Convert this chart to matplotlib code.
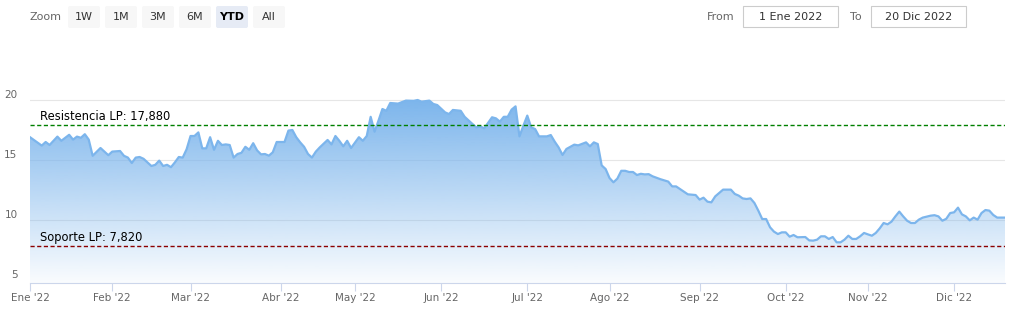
import numpy as np
import pandas as pd
import matplotlib
matplotlib.use("Agg")
import matplotlib.pyplot as plt
from matplotlib.colors import to_rgb
from matplotlib.patches import PathPatch, FancyBboxPatch, Rectangle
from matplotlib.transforms import IdentityTransform

W, H = 1016, 327

# market holidays (Spanish exchange) -> ordinal x axis skips them
holidays = ["2022-04-15", "2022-04-18"]
first_session, last_session = "2022-01-03", "2022-12-20"

dates = [
    "2022-01-03", "2022-01-06", "2022-01-07", "2022-01-10", "2022-01-12", "2022-01-13", "2022-01-17",
    "2022-01-18", "2022-01-19", "2022-01-20", "2022-01-21", "2022-01-24", "2022-01-25", "2022-01-27",
    "2022-01-31",
    "2022-02-01", "2022-02-03", "2022-02-04", "2022-02-07", "2022-02-08", "2022-02-09", "2022-02-10",
    "2022-02-11", "2022-02-15", "2022-02-16", "2022-02-17", "2022-02-18", "2022-02-21", "2022-02-22",
    "2022-02-23", "2022-02-24", "2022-02-25", "2022-02-28",
    "2022-03-01", "2022-03-02", "2022-03-03", "2022-03-04", "2022-03-07", "2022-03-08", "2022-03-09",
    "2022-03-10", "2022-03-11", "2022-03-14", "2022-03-15", "2022-03-16", "2022-03-17", "2022-03-18",
    "2022-03-21", "2022-03-22", "2022-03-23", "2022-03-24", "2022-03-25", "2022-03-28", "2022-03-29",
    "2022-03-30", "2022-03-31",
    "2022-04-04", "2022-04-05", "2022-04-06", "2022-04-07", "2022-04-08", "2022-04-11", "2022-04-12",
    "2022-04-13", "2022-04-14", "2022-04-19", "2022-04-21", "2022-04-22", "2022-04-25", "2022-04-26",
    "2022-04-27", "2022-04-28", "2022-04-29",
    "2022-05-03", "2022-05-04", "2022-05-05", "2022-05-06", "2022-05-09", "2022-05-10", "2022-05-11",
    "2022-05-12", "2022-05-13", "2022-05-17", "2022-05-19", "2022-05-23", "2022-05-24", "2022-05-25",
    "2022-05-27", "2022-05-30", "2022-05-31",
    "2022-06-02", "2022-06-03", "2022-06-06", "2022-06-08", "2022-06-09", "2022-06-13", "2022-06-14",
    "2022-06-15", "2022-06-16", "2022-06-20", "2022-06-21", "2022-06-22", "2022-06-23", "2022-06-24",
    "2022-06-27", "2022-06-28", "2022-06-29", "2022-06-30",
    "2022-07-01", "2022-07-04", "2022-07-05", "2022-07-06", "2022-07-08", "2022-07-11", "2022-07-12",
    "2022-07-13", "2022-07-14", "2022-07-15", "2022-07-19", "2022-07-20", "2022-07-22", "2022-07-25",
    "2022-07-26", "2022-07-27", "2022-07-28", "2022-07-29",
    "2022-08-01", "2022-08-02", "2022-08-03", "2022-08-04", "2022-08-05", "2022-08-08", "2022-08-09",
    "2022-08-10", "2022-08-11", "2022-08-12", "2022-08-15", "2022-08-16", "2022-08-18", "2022-08-19",
    "2022-08-22", "2022-08-23", "2022-08-24", "2022-08-29", "2022-08-31",
    "2022-09-01", "2022-09-02", "2022-09-05", "2022-09-06", "2022-09-07", "2022-09-09", "2022-09-13",
    "2022-09-14", "2022-09-15", "2022-09-16", "2022-09-19", "2022-09-20", "2022-09-21", "2022-09-22",
    "2022-09-23", "2022-09-26", "2022-09-27", "2022-09-28", "2022-09-29", "2022-09-30",
    "2022-10-03", "2022-10-04", "2022-10-05", "2022-10-06", "2022-10-10", "2022-10-11", "2022-10-12",
    "2022-10-13", "2022-10-14", "2022-10-17", "2022-10-18", "2022-10-19", "2022-10-20", "2022-10-21",
    "2022-10-24", "2022-10-25", "2022-10-26", "2022-10-27", "2022-10-28", "2022-10-31",
    "2022-11-01", "2022-11-02", "2022-11-03", "2022-11-04", "2022-11-07", "2022-11-08", "2022-11-09",
    "2022-11-10", "2022-11-11", "2022-11-14", "2022-11-15", "2022-11-16", "2022-11-17", "2022-11-18",
    "2022-11-21", "2022-11-23", "2022-11-24", "2022-11-25", "2022-11-28", "2022-11-29", "2022-11-30",
    "2022-12-01", "2022-12-02", "2022-12-05", "2022-12-06", "2022-12-07", "2022-12-08", "2022-12-09",
    "2022-12-12", "2022-12-13", "2022-12-14", "2022-12-15", "2022-12-16", "2022-12-20",
]

prices = [
    16.9, 16.2, 16.5, 16.25, 16.95, 16.6, 17.1,
    16.7, 16.95, 16.85, 17.15, 16.7, 15.35, 16.0,
    15.4,
    15.7, 15.75, 15.35, 15.2, 14.75, 15.2, 15.25,
    15.1, 14.5, 14.6, 14.95, 14.5, 14.6, 14.4,
    14.8, 15.25, 15.2, 15.9,
    17.0, 17.0, 17.3, 15.97, 15.97, 16.9, 15.85,
    16.6, 16.25, 16.3, 16.25, 15.2, 15.5, 15.6,
    16.1, 15.85, 16.4, 15.8, 15.47, 15.5, 15.36,
    15.64, 16.5,
    16.5, 17.45, 17.5, 16.9, 16.47, 16.1, 15.5,
    15.2, 15.7, 16.05, 16.67, 16.3, 17.0, 16.6,
    16.14, 16.6, 16.0,
    16.9, 16.6, 17.0, 18.6, 17.36, 18.28, 19.25,
    19.1, 19.75, 19.7, 19.95, 19.93, 20.0, 19.86,
    19.95, 19.67, 19.58,
    18.97, 18.83, 19.17, 19.1, 18.6, 18.0, 17.72,
    17.8, 17.64, 18.56, 18.47, 18.2, 18.6, 18.6,
    19.2, 19.47, 16.97, 17.86,
    18.7, 17.72, 17.58, 16.97, 16.97, 17.08, 16.53,
    16.05, 15.42, 15.92, 16.28, 16.22, 16.47, 16.14,
    16.47, 16.33, 14.55, 14.25,
    13.5, 13.14, 13.45, 14.1, 14.1, 14.0, 14.0,
    13.75, 13.85, 13.8, 13.82, 13.64, 13.4, 13.3,
    13.2, 12.8, 12.8, 12.14, 12.08,
    11.7, 11.86, 11.53, 11.47, 11.97, 12.53, 12.53,
    12.17, 12.03, 11.8, 11.75, 11.8, 11.42, 10.78,
    10.08, 10.08, 9.39, 9.03, 8.83, 8.97,
    8.97, 8.61, 8.75, 8.56, 8.58, 8.3, 8.28,
    8.36, 8.64, 8.64, 8.42, 8.58, 8.14, 8.14,
    8.36, 8.69, 8.42, 8.42, 8.64, 8.92,
    8.8, 8.69, 8.92, 9.3, 9.75, 9.64, 9.86,
    10.3, 10.7, 10.3, 9.94, 9.75, 9.75, 10.03,
    10.2, 10.36, 10.4, 10.3, 9.94, 10.1, 10.58,
    10.64, 11.03, 10.47, 10.3, 9.97, 10.2, 10.03,
    10.58, 10.83, 10.78, 10.42, 10.2, 10.2,
]

month_labels = ["Ene '22", "Feb '22", "Mar '22", "Abr '22", "May '22", "Jun '22",
                "Jul '22", "Ago '22", "Sep '22", "Oct '22", "Nov '22", "Dic '22"]
y_ticks = [5, 10, 15, 20]

resistance = 17.880
support = 7.820
resistance_label = "Resistencia LP: 17,880"
support_label = "Soporte LP: 7,820"

zoom_buttons = ["1W", "1M", "3M", "6M", "YTD", "All"]
selected_button = "YTD"
range_from, range_to = "1 Ene 2022", "20 Dic 2022"

series_color = "#7cb5ec"
ymin, ymax = 4.75, 24.5


def fx(px):
    return px / W


def fy(py):
    return 1 - py / H


# ordinal axis: x is the session number
sessions = pd.bdate_range(first_session, last_session, freq="C", holidays=holidays)
x = sessions.get_indexer(pd.to_datetime(dates))
y = np.array(prices)
month_pos = [sessions.searchsorted(pd.Timestamp(2022, m, 1)) for m in range(1, 13)]

fig = plt.figure(figsize=(W / 100, H / 100), dpi=100)
ax = fig.add_axes([fx(30), fy(283), fx(1005) - fx(30), fy(46) - fy(283)])
ax.set_facecolor("white")

# grid
for t in y_ticks[1:]:
    ax.axhline(t, color="#e6e6e6", lw=0.8, zorder=0.5)

# gradient area
grad = np.zeros((256, 1, 4))
grad[..., :3] = to_rgb(series_color)
grad[..., 3] = np.linspace(1.0, 0.04, 256)[:, None]
im = ax.imshow(grad, extent=[x[0], x[-1], ymin, y.max()], origin="upper",
               aspect="auto", zorder=1, interpolation="bilinear")
poly = ax.fill_between(x, y, ymin, facecolor="none", edgecolor="none")
clip = PathPatch(poly.get_paths()[0], transform=ax.transData, facecolor="none", edgecolor="none")
ax.add_patch(clip)
im.set_clip_path(clip)

ax.plot(x, y, color=series_color, lw=1.6, zorder=3, solid_joinstyle="round")

# support / resistance
ax.axhline(resistance, color="#008000", lw=1.0, dashes=(3, 1.8), zorder=4)
ax.axhline(support, color="#8b0000", lw=1.0, dashes=(3, 1.8), zorder=4)
ax.annotate(resistance_label, xy=(x[0], resistance), xytext=(7, 1.5), textcoords="offset points",
            fontsize=8.3, color="black", va="bottom", ha="left", zorder=5)
ax.annotate(support_label, xy=(x[0], support), xytext=(7, 1.5), textcoords="offset points",
            fontsize=8.3, color="black", va="bottom", ha="left", zorder=5)

ax.set_xlim(0, len(sessions) - 1)
ax.set_ylim(ymin, ymax)

for s in ["top", "right", "left"]:
    ax.spines[s].set_visible(False)
ax.spines["bottom"].set_color("#ccd6eb")
ax.spines["bottom"].set_linewidth(0.8)

ax.set_xticks(month_pos)
ax.set_xticklabels(month_labels)
ax.tick_params(axis="x", length=6, color="#ccd6eb", width=0.8, labelsize=7.5,
               labelcolor="#666666", pad=1)
ax.set_yticks([])
for t in y_ticks:
    ax.annotate(str(t), xy=(0, t), xycoords=("axes fraction", "data"), xytext=(-9, 3.3),
                textcoords="offset points", ha="right", va="center", fontsize=7.5, color="#666666")

# range selector bar
fig.text(fx(30), fy(17), "Zoom", fontsize=8, color="#666666", va="center", ha="left")
for i, lab in enumerate(zoom_buttons):
    x0 = 68 + i * 37
    sel = lab == selected_button
    fig.add_artist(FancyBboxPatch((x0, H - 28), 32, 22, boxstyle="round,pad=0,rounding_size=2",
                                  transform=IdentityTransform(), facecolor="#e6ebf5" if sel else "#f7f7f7",
                                  edgecolor="none"))
    fig.text(fx(x0 + 16), fy(17), lab, fontsize=8, color="black" if sel else "#333333",
             fontweight="bold" if sel else "normal", ha="center", va="center")

fig.text(fx(735), fy(17), "From", fontsize=8, color="#666666", ha="right", va="center")
fig.add_artist(Rectangle((743, H - 27), 95, 21, transform=IdentityTransform(),
                         facecolor="white", edgecolor="#cccccc", lw=0.8))
fig.text(fx(790.5), fy(16.5), range_from, fontsize=8, color="#333333", ha="center", va="center")
fig.text(fx(862), fy(17), "To", fontsize=8, color="#666666", ha="right", va="center")
fig.add_artist(Rectangle((871, H - 27), 95, 21, transform=IdentityTransform(),
                         facecolor="white", edgecolor="#cccccc", lw=0.8))
fig.text(fx(918.5), fy(16.5), range_to, fontsize=8, color="#333333", ha="center", va="center")

fig.savefig("out.png", dpi=100)
